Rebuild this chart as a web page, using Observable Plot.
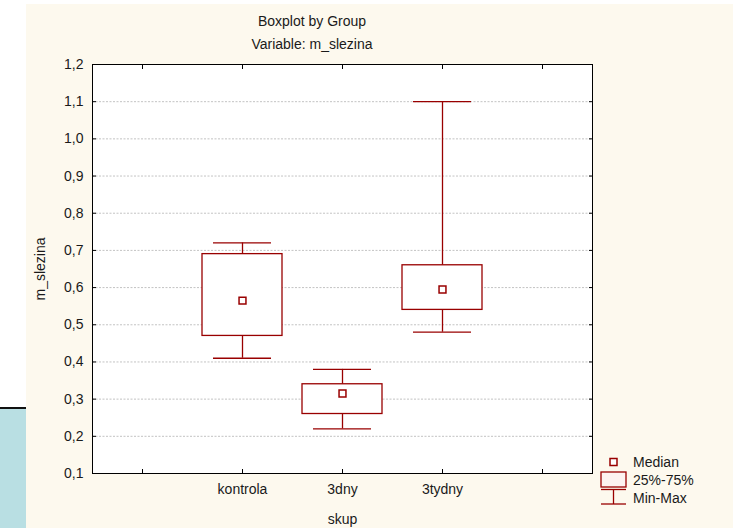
<!DOCTYPE html>
<html>
<head>
<meta charset="utf-8">
<script src="https://cdn.jsdelivr.net/npm/d3@7"></script>
<script src="https://cdn.jsdelivr.net/npm/@observablehq/plot@0.6"></script>
<style>
  html, body { margin: 0; padding: 0; background: #ffffff; }
  #page { position: relative; width: 733px; height: 528px; overflow: hidden; font-family: "Liberation Sans", Arial, sans-serif; color: #1a1a1a; }
  #deco { position: absolute; left: 0; top: 407px; width: 26px; height: 121px; background: #b9dfe3; border-top: 2px solid #111; }
  #panel { position: absolute; left: 26px; top: 4px; width: 707px; height: 524px; background: #fdf9ee; }
  .title { position: absolute; left: 212px; width: 200px; text-align: center; font-size: 14px; white-space: nowrap; }
  #chart { position: absolute; left: 26px; top: 56px; }
  #legend { position: absolute; left: 590px; top: 450px; }
</style>
</head>
<body>
<div id="page">
  <div id="deco"></div>
  <div id="panel"></div>
  <div class="title" style="top:13px">Boxplot by Group</div>
  <div class="title" style="top:36px">Variable: m_slezina</div>
  <div id="chart"></div>
  <svg id="legend" width="143" height="70"></svg>
</div>
<script>
// ---- data ----
const groups = ["kontrola", "3dny", "3tydny"];
const minVals = [0.41, 0.22, 0.48];
const q1Vals = [0.47, 0.26, 0.54];
const medianVals = [0.565, 0.315, 0.595];
const q3Vals = [0.69, 0.34, 0.66];
const maxVals = [0.72, 0.38, 1.10];
const yTicks = [0.1, 0.2, 0.3, 0.4, 0.5, 0.6, 0.7, 0.8, 0.9, 1.0, 1.1, 1.2];
const xDomain = ["", ...groups, " "];
const legendLabels = ["Median", "25%-75%", "Min-Max"];

const rows = groups.map((g, i) => ({
  group: g, min: minVals[i], q1: q1Vals[i], median: medianVals[i], q3: q3Vals[i], max: maxVals[i]
}));

const red = "#990000";
const fmt = d => d3.format(".1f")(d).replace(".", ",");
const blank = () => "";

const plot = Plot.plot({
  width: 707,
  height: 472,
  marginLeft: 66,
  marginRight: 141,
  marginTop: 8,
  marginBottom: 55,
  style: { background: "transparent", fontFamily: "Liberation Sans, Arial, sans-serif", fontSize: "14px", color: "#1a1a1a" },
  x: { type: "band", domain: xDomain, padding: 0 },
  y: { domain: [0.1, 1.2] },
  marks: [
    Plot.frame({ fill: "white", stroke: "none" }),
    Plot.gridY(yTicks, { stroke: "#b4b4b4", strokeOpacity: 1, strokeDasharray: "2,1.5", strokeWidth: 0.8 }),
    Plot.ruleX(rows, { x: "group", y1: "min", y2: "q1", stroke: red, strokeWidth: 1.3 }),
    Plot.ruleX(rows, { x: "group", y1: "q3", y2: "max", stroke: red, strokeWidth: 1.3 }),
    Plot.tickY(rows, { x: "group", y: "min", stroke: red, strokeWidth: 1.3, insetLeft: 21, insetRight: 21 }),
    Plot.tickY(rows, { x: "group", y: "max", stroke: red, strokeWidth: 1.3, insetLeft: 21, insetRight: 21 }),
    Plot.barY(rows, { x: "group", y1: "q1", y2: "q3", fill: "white", stroke: red, strokeWidth: 1.3, insetLeft: 10, insetRight: 10 }),
    Plot.dot(rows, { x: "group", y: "median", symbol: "square", r: 3.9, fill: "white", stroke: red, strokeWidth: 1.5 }),
    Plot.frame({ stroke: "#000", strokeWidth: 1 }),
    // inward ticks on all sides
    Plot.axisY(yTicks, { anchor: "left", tickSize: -4, tickFormat: blank, label: null, stroke: "#000" }),
    Plot.axisY(yTicks, { anchor: "right", tickSize: -4, tickFormat: blank, label: null, stroke: "#000" }),
    Plot.axisX({ anchor: "bottom", tickSize: -4, tickFormat: blank, label: null, stroke: "#000" }),
    Plot.axisX({ anchor: "top", tickSize: -4, tickFormat: blank, label: null, stroke: "#000" }),
    // labels
    Plot.axisY(yTicks, { anchor: "left", tickSize: 0, tickPadding: 9, tickFormat: fmt, label: "m_slezina", labelAnchor: "center", labelOffset: 57, labelArrow: "none", fill: "#1a1a1a" }),
    Plot.axisX({ anchor: "bottom", tickSize: 0, tickPadding: 11, label: "skup", labelAnchor: "center", labelOffset: 50, labelArrow: "none", fill: "#1a1a1a" })
  ]
});
document.getElementById("chart").appendChild(plot);

// ---- legend ----
const lg = d3.select("#legend");
const lx = 11, lw = 25, cx = lx + lw / 2;
lg.append("rect").attr("x", cx - 3.5).attr("y", 8.5).attr("width", 7).attr("height", 7)
  .attr("fill", "white").attr("stroke", red).attr("stroke-width", 1.5);
lg.append("rect").attr("x", lx).attr("y", 22).attr("width", lw).attr("height", 15)
  .attr("fill", "#fdf3f0").attr("stroke", red).attr("stroke-width", 1.3);
lg.append("line").attr("x1", lx).attr("x2", lx + lw).attr("y1", 39.5).attr("y2", 39.5).attr("stroke", red).attr("stroke-width", 1.3);
lg.append("line").attr("x1", cx).attr("x2", cx).attr("y1", 39.5).attr("y2", 54).attr("stroke", red).attr("stroke-width", 1.3);
lg.append("line").attr("x1", lx).attr("x2", lx + lw).attr("y1", 54).attr("y2", 54).attr("stroke", red).attr("stroke-width", 1.3);
const ty = [12, 30.5, 48];
legendLabels.forEach((t, i) => {
  lg.append("text").attr("x", 43).attr("y", ty[i]).attr("dy", "0.35em")
    .attr("font-family", "Liberation Sans, Arial, sans-serif").attr("font-size", 14).attr("fill", "#1a1a1a").text(t);
});
</script>
</body>
</html>
